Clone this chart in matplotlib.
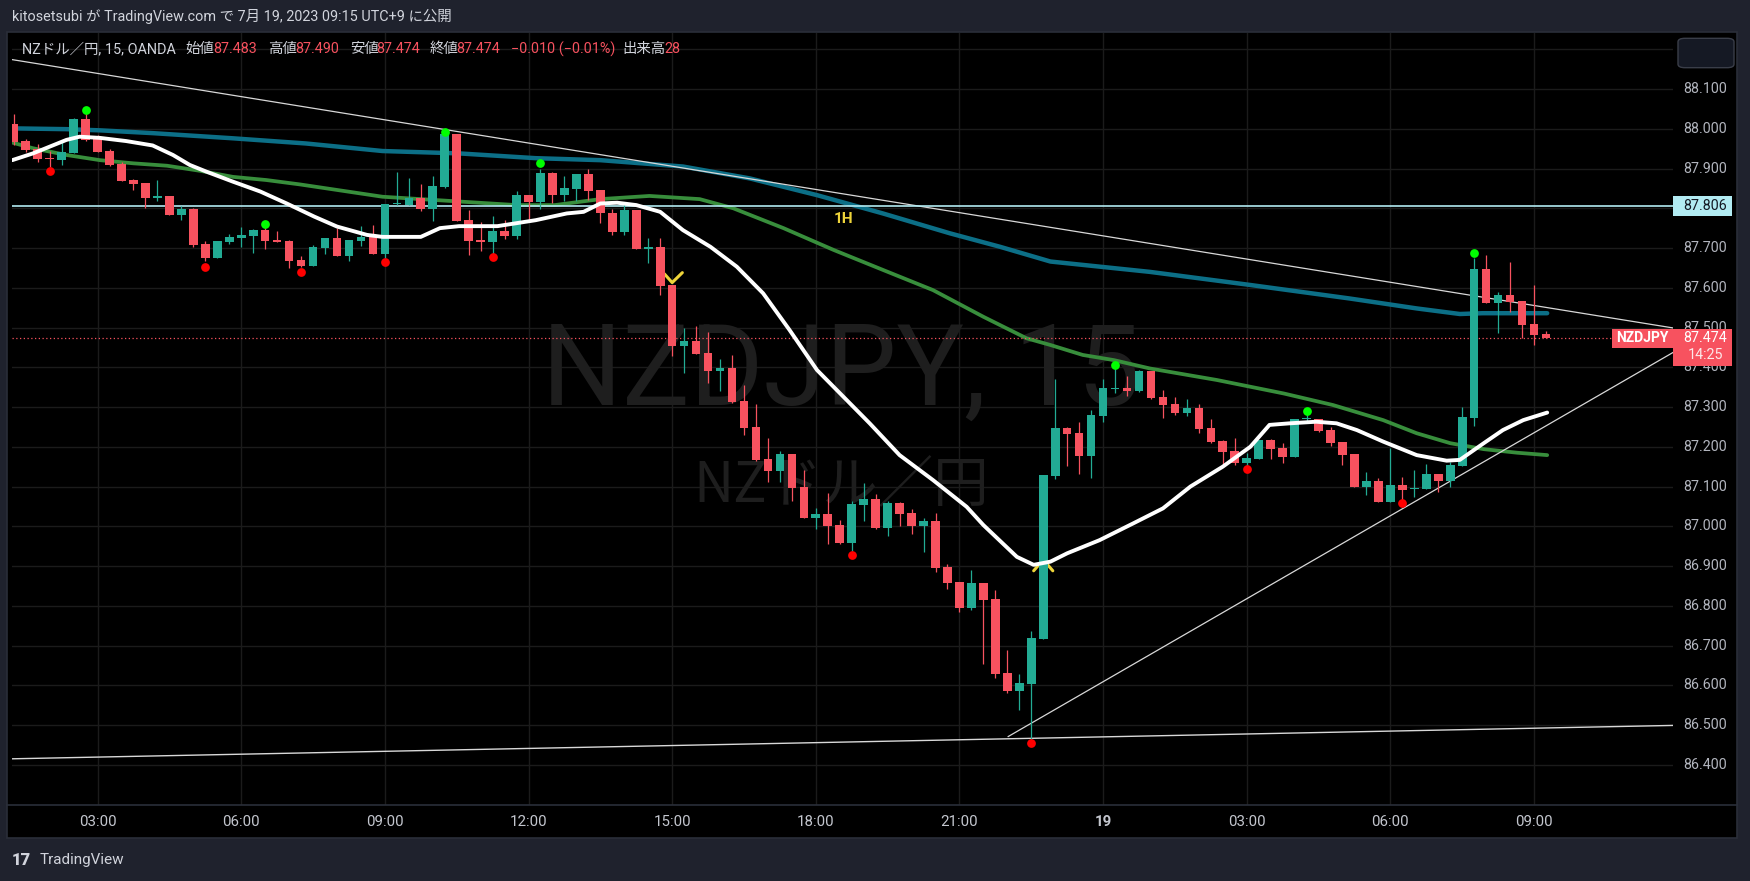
import matplotlib
matplotlib.use("Agg")
import matplotlib.pyplot as plt
import matplotlib.transforms as mtransforms
from matplotlib.patches import Rectangle, FancyBboxPatch
from matplotlib.lines import Line2D
import numpy as np
import pandas as pd

plt.rcParams['font.family'] = ['Roboto', 'Noto Sans CJK JP', 'DejaVu Sans']

#%% DATA  (NZDJPY 15min, 2023-07-18 01:15 -> 2023-07-19 09:15)
opens = [88.012, 87.969, 87.949, 87.927, 87.921, 87.940, 88.025, 87.975, 87.944, 87.911,
         87.871, 87.864, 87.827, 87.831, 87.784, 87.798, 87.710, 87.675, 87.715, 87.725,
         87.730, 87.745, 87.720, 87.718, 87.670, 87.656, 87.700, 87.724, 87.681, 87.718,
         87.727, 87.685, 87.811, 87.807, 87.827, 87.799, 87.854, 87.986, 87.770, 87.720,
         87.716, 87.743, 87.731, 87.833, 87.817, 87.889, 87.834, 87.849, 87.886, 87.845,
         87.788, 87.741, 87.796, 87.698, 87.702, 87.607, 87.454, 87.466, 87.436, 87.391,
         87.397, 87.315, 87.250, 87.169, 87.139, 87.182, 87.099, 87.022, 87.031, 87.003,
         86.959, 87.054, 87.068, 86.996, 87.058, 87.033, 87.001, 87.013, 86.897, 86.860,
         86.795, 86.857, 86.817, 86.631, 86.586, 86.604, 86.717, 87.127, 87.247, 87.235,
         87.178, 87.277, 87.346, 87.348, 87.340, 87.391, 87.325, 87.308, 87.286, 87.297,
         87.247, 87.214, 87.189, 87.159, 87.169, 87.217, 87.197, 87.174, 87.270, 87.270,
         87.242, 87.212, 87.182, 87.099, 87.114, 87.061, 87.104, 87.094, 87.094, 87.131,
         87.114, 87.152, 87.273, 87.647, 87.562, 87.582, 87.567, 87.509, 87.483]
highs = [88.037, 87.973, 87.961, 87.944, 87.966, 88.028, 88.047, 87.984, 87.949, 87.917,
         87.874, 87.864, 87.871, 87.831, 87.806, 87.800, 87.718, 87.718, 87.735, 87.752,
         87.748, 87.752, 87.743, 87.720, 87.680, 87.707, 87.724, 87.751, 87.720, 87.755,
         87.758, 87.811, 87.890, 87.876, 87.861, 87.881, 87.999, 87.988, 87.796, 87.765,
         87.781, 87.770, 87.843, 87.833, 87.900, 87.890, 87.882, 87.886, 87.900, 87.845,
         87.797, 87.813, 87.796, 87.724, 87.724, 87.607, 87.500, 87.504, 87.489, 87.420,
         87.430, 87.355, 87.307, 87.222, 87.189, 87.182, 87.141, 87.045, 87.083, 87.016,
         87.064, 87.109, 87.081, 87.064, 87.061, 87.043, 87.021, 87.033, 86.905, 86.860,
         86.890, 86.857, 86.840, 86.689, 86.628, 86.737, 87.129, 87.370, 87.250, 87.262,
         87.292, 87.370, 87.401, 87.378, 87.393, 87.391, 87.343, 87.325, 87.320, 87.308,
         87.270, 87.217, 87.222, 87.184, 87.217, 87.219, 87.209, 87.270, 87.290, 87.270,
         87.250, 87.212, 87.182, 87.136, 87.121, 87.197, 87.124, 87.141, 87.157, 87.131,
         87.162, 87.300, 87.676, 87.682, 87.589, 87.665, 87.567, 87.607, 87.490]
lows = [87.959, 87.941, 87.917, 87.905, 87.909, 87.940, 87.969, 87.942, 87.906, 87.869,
        87.846, 87.801, 87.818, 87.784, 87.771, 87.703, 87.668, 87.675, 87.710, 87.702,
        87.688, 87.697, 87.716, 87.650, 87.651, 87.656, 87.686, 87.681, 87.668, 87.706,
        87.686, 87.674, 87.808, 87.807, 87.794, 87.769, 87.852, 87.769, 87.683, 87.693,
        87.678, 87.723, 87.723, 87.770, 87.798, 87.812, 87.818, 87.818, 87.821, 87.762,
        87.733, 87.733, 87.698, 87.663, 87.583, 87.429, 87.386, 87.434, 87.360, 87.341,
        87.311, 87.230, 87.163, 87.112, 87.112, 87.064, 87.022, 86.994, 86.956, 86.956,
        86.939, 87.014, 86.994, 86.976, 87.001, 86.981, 86.936, 86.886, 86.843, 86.785,
        86.790, 86.654, 86.619, 86.581, 86.539, 86.458, 86.717, 87.120, 87.152, 87.131,
        87.122, 87.263, 87.336, 87.328, 87.339, 87.321, 87.273, 87.280, 87.277, 87.235,
        87.209, 87.157, 87.154, 87.147, 87.169, 87.169, 87.159, 87.174, 87.260, 87.237,
        87.202, 87.154, 87.099, 87.079, 87.061, 87.061, 87.066, 87.074, 87.094, 87.086,
        87.099, 87.152, 87.253, 87.562, 87.486, 87.539, 87.473, 87.456, 87.474]
closes = [87.967, 87.946, 87.925, 87.923, 87.942, 88.025, 87.972, 87.942, 87.909, 87.869,
          87.862, 87.827, 87.832, 87.784, 87.798, 87.708, 87.675, 87.718, 87.727, 87.733,
          87.745, 87.718, 87.716, 87.668, 87.655, 87.702, 87.724, 87.681, 87.720, 87.727,
          87.686, 87.811, 87.814, 87.827, 87.799, 87.855, 87.986, 87.769, 87.718, 87.716,
          87.743, 87.731, 87.833, 87.817, 87.889, 87.834, 87.851, 87.886, 87.844, 87.787,
          87.741, 87.796, 87.698, 87.702, 87.605, 87.454, 87.466, 87.434, 87.391, 87.397,
          87.313, 87.248, 87.167, 87.139, 87.182, 87.097, 87.022, 87.031, 87.001, 86.959,
          87.056, 87.068, 86.996, 87.058, 87.032, 87.001, 87.013, 86.896, 86.858, 86.795,
          86.857, 86.815, 86.629, 86.586, 86.606, 86.719, 87.129, 87.247, 87.233, 87.178,
          87.280, 87.348, 87.349, 87.340, 87.391, 87.323, 87.305, 87.286, 87.297, 87.245,
          87.212, 87.187, 87.159, 87.172, 87.217, 87.194, 87.174, 87.270, 87.273, 87.240,
          87.209, 87.179, 87.099, 87.114, 87.061, 87.104, 87.091, 87.096, 87.131, 87.114,
          87.154, 87.275, 87.647, 87.562, 87.582, 87.564, 87.506, 87.481, 87.474]

# moving averages (candle index, price)
white_x = [-0.13, 1.6, 3.0, 4.4, 5.5, 7.2, 9.4, 11.6, 13.3, 14.7, 16.1, 18.3, 20.6, 22.8,
           25.1, 27.0, 29.5, 30.8, 34.0, 35.6, 37.2, 40.4, 43.6, 46.2, 47.6, 49.0, 50.4,
           52.0, 54.0, 55.9, 58.2, 60.4, 62.6, 64.8, 67.1, 69.3, 71.5, 74.0, 76.8, 79.6,
           81.0, 83.8, 85.2, 86.6, 88.0, 90.7, 93.5, 96.0, 98.3, 101.0, 103.3, 104.9, 106.6,
           108.8, 110.5, 112.2, 114.4, 117.2, 119.7, 120.8, 122.8, 124.4, 126.1, 128.1]
white_y = [87.921, 87.938, 87.955, 87.972, 87.980, 87.977, 87.969, 87.958, 87.934, 87.909,
           87.892, 87.867, 87.842, 87.812, 87.779, 87.754, 87.733, 87.728, 87.728, 87.750,
           87.755, 87.755, 87.770, 87.787, 87.791, 87.812, 87.814, 87.808, 87.791, 87.745,
           87.703, 87.653, 87.586, 87.494, 87.393, 87.326, 87.259, 87.179, 87.116, 87.049,
           87.003, 86.923, 86.903, 86.911, 86.932, 86.965, 87.007, 87.045, 87.100, 87.150,
           87.200, 87.255, 87.259, 87.263, 87.259, 87.242, 87.213, 87.179, 87.165, 87.167,
           87.209, 87.242, 87.267, 87.286]
green_x = [-0.1, 1.6, 4.4, 7.2, 10.0, 12.8, 15.6, 18.3, 21.1, 23.9, 30.8, 34.0, 37.2, 42.0,
           45.2, 49.0, 53.1, 57.3, 60.1, 64.3, 68.5, 72.6, 76.8, 81.0, 84.6, 86.6, 89.3,
           91.9, 94.9, 100.5, 106.1, 110.2, 114.4, 117.2, 120.0, 122.8, 125.6, 128.1]
green_y = [87.965, 87.951, 87.934, 87.921, 87.913, 87.907, 87.894, 87.879, 87.871, 87.860,
           87.829, 87.823, 87.817, 87.808, 87.808, 87.823, 87.831, 87.823, 87.800, 87.750,
           87.695, 87.645, 87.594, 87.527, 87.473, 87.456, 87.431, 87.418, 87.397, 87.368,
           87.334, 87.305, 87.267, 87.234, 87.209, 87.194, 87.185, 87.179]
teal_x = [-0.1, 4.4, 7.2, 11.6, 18.3, 24.4, 30.8, 37.2, 43.6, 49.0, 55.9, 61.5, 67.1, 72.6,
          78.2, 82.4, 86.6, 94.9, 103.3, 111.6, 117.2, 120.8, 122.7, 128.1]
teal_y = [88.001, 87.999, 87.996, 87.989, 87.976, 87.963, 87.944, 87.938, 87.926, 87.921,
          87.905, 87.875, 87.833, 87.787, 87.737, 87.703, 87.666, 87.640, 87.607, 87.573,
          87.548, 87.534, 87.536, 87.536]

# pivot markers
pivot_high_idx = [6, 21, 36, 44, 92, 108, 122]
pivot_high_val = [88.046, 87.760, 87.993, 87.913, 87.405, 87.290, 87.687]
pivot_low_idx = [3, 16, 24, 31, 40, 70, 85, 103, 116]
pivot_low_val = [87.893, 87.653, 87.640, 87.666, 87.678, 86.927, 86.456, 87.143, 87.058]
sell_sig_idx, sell_sig_val = [55], [87.613]
buy_sig_idx, buy_sig_val = [86], [86.916]

# drawn lines (index, price)
resist_line = ([-0.15, 138.6], [88.174, 87.499])
support_line = ([-0.15, 138.6], [86.415, 86.499])
rising_line = ([83.07, 138.6], [86.471, 87.437])
hline_level = 87.806
last_price = 87.474

price_ticks = [86.4, 86.5, 86.6, 86.7, 86.8, 86.9, 87.0, 87.1, 87.2, 87.3, 87.4, 87.5,
               87.6, 87.7, 87.8, 87.9, 88.0, 88.1]
grid_levels = price_ticks + [88.2]

times = pd.date_range('2023-07-18 01:15', periods=len(closes), freq='15min')

#%% FIGURE
W, H = 1750, 881
def fx(px):
    return px / W
def fy(py):
    return 1 - py / H

BG = '#1f222d'
UP = '#22ab94'
DOWN = '#f7525f'
GRID = '#1b1b1b'
TXT = '#b2b5be'

fig = plt.figure(figsize=(W / 100, H / 100), dpi=100, facecolor=BG)
fig.add_artist(Rectangle((fx(7), fy(838)), fx(1737) - fx(7), fy(32) - fy(838),
                         transform=fig.transFigure, facecolor='black',
                         edgecolor='#2a2e39', lw=1.2, zorder=0))
fig.add_artist(Line2D([fx(7), fx(1737)], [fy(805), fy(805)], color='#2a2e39', lw=1.2))

ax = fig.add_axes([fx(12), fy(805), fx(1673) - fx(12), fy(33) - fy(805)])
ax.set_facecolor('black')
for s in ax.spines.values():
    s.set_visible(False)
ax.set_xticks([])
ax.set_yticks([])
ax.set_xlim(-0.15, 138.61)
ax.set_ylim(86.2988, 88.2409)

trans_r = mtransforms.blended_transform_factory(ax.transAxes, ax.transData)
trans_b = mtransforms.blended_transform_factory(ax.transData, ax.transAxes)

# grid
for v in grid_levels:
    ax.axhline(v, color=GRID, lw=1.0, zorder=0)
tick_idx = [k for k, t in enumerate(times) if t.minute == 0 and t.hour % 3 == 0]
for k in tick_idx:
    ax.axvline(k, color=GRID, lw=1.0, zorder=0)

# watermarks
ax.text(0.4991, 0.518, "NZDJPY, 15", transform=ax.transAxes, ha='center', va='baseline',
        fontsize=81, color='#1e1e1e', zorder=0.5)
ax.text(0.4995, 0.4145, "NZドル／円", transform=ax.transAxes, ha='center', va='center',
        fontsize=40, color='#1e1e1e', family=['Noto Sans CJK JP'], zorder=0.5)

# moving averages behind candles
ax.plot(teal_x, teal_y, color='#0c6f87', lw=3.2, solid_capstyle='round',
        solid_joinstyle='round', zorder=2)
ax.plot(green_x, green_y, color='#388e3c', lw=2.7, solid_capstyle='round',
        solid_joinstyle='round', zorder=2)

# trend / level lines
ax.plot(*resist_line, color='#d8d8d8', lw=0.9, zorder=2.5)
ax.plot(*support_line, color='#d8d8d8', lw=1.0, zorder=2.5)
ax.plot(*rising_line, color='#d8d8d8', lw=0.9, zorder=2.5)
ax.axhline(hline_level, color='#b2ebf2', lw=1.2, zorder=2.5)
ax.axhline(last_price, color=DOWN, lw=0.9, ls=(0, (1, 2)), zorder=2.5)

# signal chevrons
YEL = '#eed43a'
for k, v in zip(sell_sig_idx, sell_sig_val):
    ax.plot([k - 0.65, k, k + 0.85], [v + 0.022, v, v + 0.025], color=YEL, lw=2.2,
            solid_capstyle='round', zorder=3)
for k, v in zip(buy_sig_idx, buy_sig_val):
    ax.plot([k - 0.8, k, k + 0.8], [v - 0.028, v, v - 0.028], color=YEL, lw=2.2,
            solid_capstyle='round', zorder=3)

# candles
idx = np.arange(len(closes))
o = np.array(opens); c = np.array(closes)
cols = [UP if cc >= oo else DOWN for oo, cc in zip(o, c)]
body_lo = np.minimum(o, c)
body_h = np.maximum(np.abs(c - o), 0.0025)
ax.vlines(idx, lows, highs, colors=cols, lw=0.9, zorder=4)
ax.bar(idx, body_h, bottom=body_lo, width=0.72, color=cols, lw=0, zorder=4)

# fast ma on top
ax.plot(white_x, white_y, color='white', lw=2.8, solid_capstyle='round',
        solid_joinstyle='round', zorder=5)

# pivots
ax.plot(pivot_high_idx, pivot_high_val, 'o', color='#00ff00', ms=6.3, mew=0, zorder=6)
ax.plot(pivot_low_idx, pivot_low_val, 'o', color='#ff0000', ms=6.3, mew=0, zorder=6)

ax.text(69.3, 87.773, "1H", color=YEL, fontsize=11, fontweight='bold', ha='center',
        va='center', zorder=6)

# price axis labels (the last-price box hides part of two of them)
px = 0.0025157  # price per pixel
box_top = last_price + 9.0 * px
box_bot = last_price - 28.0 * px
for v in price_ticks:
    t = ax.text(1.0193, v, f"{v:.3f}", transform=trans_r, ha='center', va='center',
                fontsize=10.3, color=TXT, clip_on=False)
    if box_bot - 0.02 < v < box_top + 0.02:
        if v > last_price:
            clip = Rectangle((1.0, box_top), 0.06, 1.0, transform=trans_r)
        else:
            clip = Rectangle((1.0, box_bot - 1.0), 0.06, 1.0, transform=trans_r)
        t.set_clip_on(True)
        t.set_clip_path(clip)

ax.add_patch(Rectangle((1.0, hline_level - 10 * px), 0.0355, 20 * px, transform=trans_r,
                       facecolor='#b2ebf2', lw=0, clip_on=False, zorder=8))
ax.text(1.0193, hline_level, f"{hline_level:.3f}", transform=trans_r, ha='center',
        va='center', fontsize=10.3, color='#131722', clip_on=False, zorder=9)
ax.add_patch(Rectangle((0.9635, box_top - 19.3 * px), 0.0365, 19.3 * px, transform=trans_r,
                       facecolor=DOWN, lw=0, clip_on=False, zorder=8))
ax.text(0.9817, last_price, "NZDJPY", transform=trans_r, ha='center', va='center',
        fontsize=10, color='white', fontweight='bold', clip_on=False, zorder=9)
ax.add_patch(Rectangle((1.0, box_bot), 0.0355, box_top - box_bot, transform=trans_r,
                       facecolor=DOWN, lw=0, clip_on=False, zorder=8))
ax.text(1.0193, last_price, f"{last_price:.3f}", transform=trans_r, ha='center',
        va='center', fontsize=10.3, color='white', clip_on=False, zorder=9)
ax.text(1.0193, last_price - 17.5 * px, "14:25", transform=trans_r, ha='center',
        va='center', fontsize=10.3, color='#fde8ea', clip_on=False, zorder=9)

# time axis labels
for k in tick_idx:
    t = times[k]
    if t.hour == 0:
        lab, fw = str(t.day), 'bold'
    else:
        lab, fw = t.strftime('%H:%M'), 'normal'
    ax.text(k, -0.022, lab, transform=trans_b, ha='center', va='center', fontsize=10.8,
            color='#c3c6ce', fontweight=fw, clip_on=False)

# top right button
fig.add_artist(FancyBboxPatch((fx(1678), fy(67.7)), fx(1734) - fx(1678), fy(38.3) - fy(67.7),
                              boxstyle='round,pad=0,rounding_size=0.004',
                              transform=fig.transFigure, facecolor='#151924',
                              edgecolor='#3a3e49', lw=1.0, zorder=10))

# header
fig.text(fx(12.5), fy(17), "kitosetsubi が TradingView.com で 7月 19, 2023 09:15 UTC+9 に公開",
         color='#d1d4dc', fontsize=10.4, va='center')
legend_parts = [(22.3, "NZドル／円, 15, OANDA", '#d1d4dc'),
                (185.3, "始値", '#d1d4dc'), (213.0, "87.483", DOWN),
                (267.9, "高値", '#d1d4dc'), (295.0, "87.490", DOWN),
                (350.4, "安値", '#d1d4dc'), (376.5, "87.474", DOWN),
                (429.4, "終値", '#d1d4dc'), (456.5, "87.474", DOWN),
                (511.2, "−0.010 (−0.01%)", DOWN),
                (622.7, "出来高", '#d1d4dc'), (664.0, "28", DOWN)]
for xp, s, col in legend_parts:
    fig.text(fx(xp), fy(49), s, color=col, fontsize=10.4, va='center', zorder=10)

# footer logo
fig.text(fx(12), fy(860), "17", color='#d1d4dc', fontsize=12, fontweight='heavy',
         va='center')
fig.text(fx(40), fy(860), "TradingView", color='#d1d4dc', fontsize=11, va='center')

fig.savefig('out.png', dpi=100, facecolor=BG)
